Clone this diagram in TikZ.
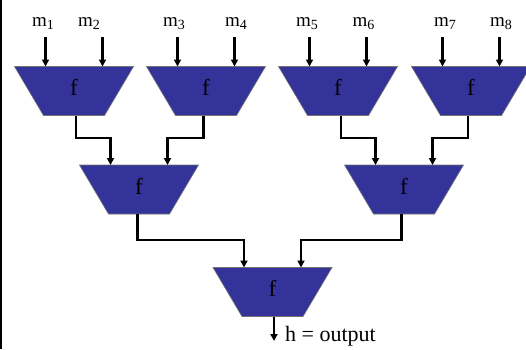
\documentclass[tikz,border=0pt]{standalone}
\usepackage{fontspec}
\setmainfont{Liberation Serif}
\usetikzlibrary{arrows.meta,calc}
\definecolor{trapblue}{RGB}{51,51,153}
\tikzset{
  trapfill/.style={fill=trapblue,draw=black!55,line width=0.6pt},
  ftext/.style={anchor=base,inner sep=0pt,font=\fontsize{23}{23}\selectfont},
  mlabel/.style={anchor=base west,inner sep=0pt,font=\fontsize{19}{19}\selectfont},
  arr/.style={line width=2.4pt,-{Triangle[width=7pt,length=7pt]}},
}
\newcommand\trapz[3]{% name, cx, topy
  \path[trapfill] (#2-59.5,#3) -- (#2+59.5,#3) -- (#2+30.5,#3+49) -- (#2-30.5,#3+49) -- cycle;
  \node[ftext] (#1) at (#2,#3+29) {f};
  \coordinate (#1-in1) at (#2-28.5,#3);
  \coordinate (#1-in2) at (#2+28.5,#3);
}
\newcommand\msub[1]{m\raisebox{-3.5pt}{\fontsize{14}{14}\selectfont #1}}
\begin{document}
\begin{tikzpicture}[x=1pt,y=-1pt]
\useasboundingbox (0,0) rectangle (526,349);
\begin{scope}
\clip (0,0) rectangle (526,349);
% level 1
\trapz{a1}{74}{66.5}
\trapz{a2}{206}{66.5}
\trapz{a3}{338}{66.5}
\trapz{a4}{471}{66.5}
% level 2
\trapz{b1}{139}{165}
\trapz{b2}{404}{165}
% level 3
\trapz{c1}{272.5}{267.5}
\end{scope}
\fill[black] (0,0) rectangle (1.8,349);
% input labels
\node[mlabel] (m1) at (32,26) {\msub{1}};
\node[mlabel] (m2) at (78,26) {\msub{2}};
\node[mlabel] (m3) at (163,26) {\msub{3}};
\node[mlabel] (m4) at (225,26) {\msub{4}};
\node[mlabel] (m5) at (296,26) {\msub{5}};
\node[mlabel] (m6) at (352.5,26) {\msub{6}};
\node[mlabel] (m7) at (434,26) {\msub{7}};
\node[mlabel] (m8) at (490,26) {\msub{8}};
% input arrows
\foreach \t in {a1,a2,a3,a4}{
  \draw[arr] ($(\t-in1)+(0,-29.5)$) -- (\t-in1);
  \draw[arr] ($(\t-in2)+(0,-29.5)$) -- (\t-in2);
}
% outputs of level 1
\coordinate (a1-out) at (76,115.5);
\coordinate (a2-out) at (203.5,115.5);
\coordinate (a3-out) at (341,115.5);
\coordinate (a4-out) at (468,115.5);
\draw[arr] (a1-out) |- ($(b1-in1)+(0,-27)$) -- (b1-in1);
\draw[arr] (a2-out) |- ($(b1-in2)+(0,-27)$) -- (b1-in2);
\draw[arr] (a3-out) |- ($(b2-in1)+(0,-27)$) -- (b2-in1);
\draw[arr] (a4-out) |- ($(b2-in2)+(0,-27)$) -- (b2-in2);
% outputs of level 2
\coordinate (b1-out) at (137.5,214);
\coordinate (b2-out) at (401.5,214);
\draw[arr] (b1-out) |- ($(c1-in1)+(0,-27.5)$) -- (c1-in1);
\draw[arr] (b2-out) |- ($(c1-in2)+(0,-27.5)$) -- (c1-in2);
% final output
\coordinate (c1-out) at (274,316.5);
\coordinate (hend) at (274,341);
\draw[arr] (c1-out) -- (hend);
\node[anchor=base west,inner sep=0pt,font=\fontsize{22}{22}\selectfont] (h) at (285,341) {h = output};
\end{tikzpicture}
\end{document}
